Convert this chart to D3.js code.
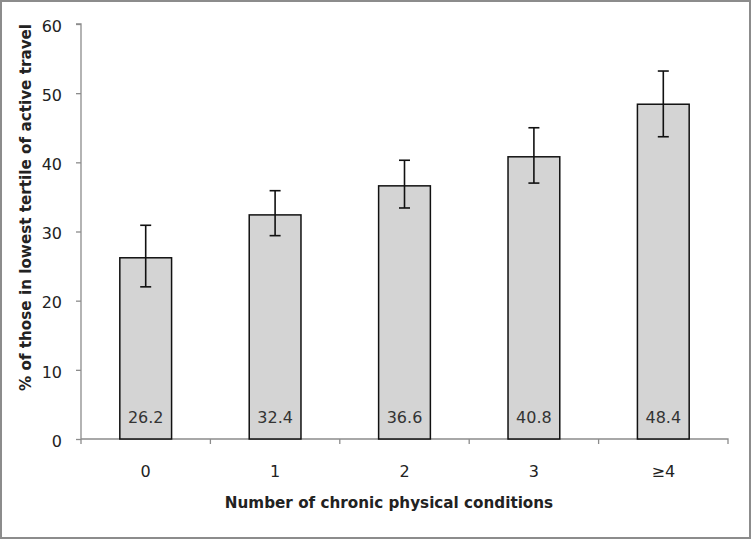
<!DOCTYPE html>
<html><head><meta charset="utf-8">
<script src="https://cdn.jsdelivr.net/npm/d3@7"></script>
<style>body{margin:0;background:#fff}svg{display:block}</style>
</head><body>
<svg id="c" width="751" height="539"></svg>
<script>
const categories = ["0", "1", "2", "3", "\u22654"];
const values = [26.2, 32.4, 36.6, 40.8, 48.4];
const errLow = [22.0, 29.4, 33.4, 37.0, 43.7];
const errHigh = [30.9, 35.9, 40.3, 45.0, 53.2];
const yTicks = [0, 10, 20, 30, 40, 50, 60];

const svg = d3.select("#c");
const W = 751, H = 539;
const m = {left: 81, right: 23, top: 24, bottom: 100};
const font = "DejaVu Sans, Verdana, sans-serif";

svg.append("rect").attr("x", 1).attr("y", 1).attr("width", W - 2).attr("height", H - 2)
  .attr("fill", "#fff").attr("stroke", "#8c8c8c").attr("stroke-width", 2);

const x = d3.scaleBand().domain(categories).range([m.left, W - m.right]).padding(0);
const y = d3.scaleLinear().domain([0, 60]).range([H - m.bottom, m.top]);

const gy = svg.append("g").attr("transform", `translate(${m.left},0)`)
  .call(d3.axisLeft(y).tickValues(yTicks).tickSize(5).tickPadding(14));
gy.selectAll("path,line").attr("stroke", "#8c8c8c").attr("stroke-width", 1.3);
gy.select(".domain").attr("d", `M-5,${y(60)}H0V${y(0)}`);
gy.selectAll("text").attr("font-family", font).attr("font-size", 16).attr("fill", "#222")
  .attr("dy", "0.45em");

const gx = svg.append("g").attr("transform", `translate(0,${y(0)})`)
  .call(d3.axisBottom(x).tickSize(0).tickPadding(27));
gx.selectAll("path,line").attr("stroke", "#8c8c8c").attr("stroke-width", 1.3);
gx.select(".domain").attr("d", `M${m.left},0H${W - m.right}V5`);
gx.selectAll("text").attr("font-family", font).attr("font-size", 16).attr("fill", "#222");
const bounds = categories.slice(1).map(c => x(c));
gx.selectAll(".sep").data(bounds).join("line").attr("class", "sep")
  .attr("x1", d => d).attr("x2", d => d).attr("y1", 0).attr("y2", 5)
  .attr("stroke", "#8c8c8c").attr("stroke-width", 1.3);
gx.append("line").attr("x1", m.left).attr("x2", m.left).attr("y1", 0).attr("y2", 5)
  .attr("stroke", "#8c8c8c").attr("stroke-width", 1.3);

const bw = x.bandwidth() * 0.4;
const cx = c => x(c) + x.bandwidth() / 2;

svg.append("g").selectAll("rect").data(categories).join("rect")
  .attr("x", d => cx(d) - bw / 2).attr("width", bw)
  .attr("y", (d, i) => y(values[i])).attr("height", (d, i) => y(0) - y(values[i]))
  .attr("fill", "#d4d4d4").attr("stroke", "#111").attr("stroke-width", 1.5);

const eg = svg.append("g").attr("stroke", "#111").attr("stroke-width", 1.6);
categories.forEach((c, i) => {
  const xc = cx(c);
  eg.append("line").attr("x1", xc).attr("x2", xc).attr("y1", y(errLow[i])).attr("y2", y(errHigh[i]));
  eg.append("line").attr("x1", xc - 5.5).attr("x2", xc + 5.5).attr("y1", y(errLow[i])).attr("y2", y(errLow[i]));
  eg.append("line").attr("x1", xc - 5.5).attr("x2", xc + 5.5).attr("y1", y(errHigh[i])).attr("y2", y(errHigh[i]));
});

svg.append("g").selectAll("text").data(categories).join("text")
  .attr("x", d => cx(d)).attr("y", y(0) - 16).attr("text-anchor", "middle")
  .attr("font-family", font).attr("font-size", 16).attr("fill", "#333")
  .text((d, i) => values[i].toFixed(1));

svg.append("text").attr("x", 389).attr("y", 508)
  .attr("text-anchor", "middle").attr("font-family", font).attr("font-size", 15.2)
  .attr("font-weight", "bold").attr("fill", "#222")
  .text("Number of chronic physical conditions");

svg.append("text").attr("transform", `translate(31,207.5) rotate(-90)`)
  .attr("text-anchor", "middle").attr("font-family", font).attr("font-size", 15.2)
  .attr("font-weight", "bold").attr("fill", "#222")
  .text("% of those in lowest tertile of active travel");
</script>
</body></html>
